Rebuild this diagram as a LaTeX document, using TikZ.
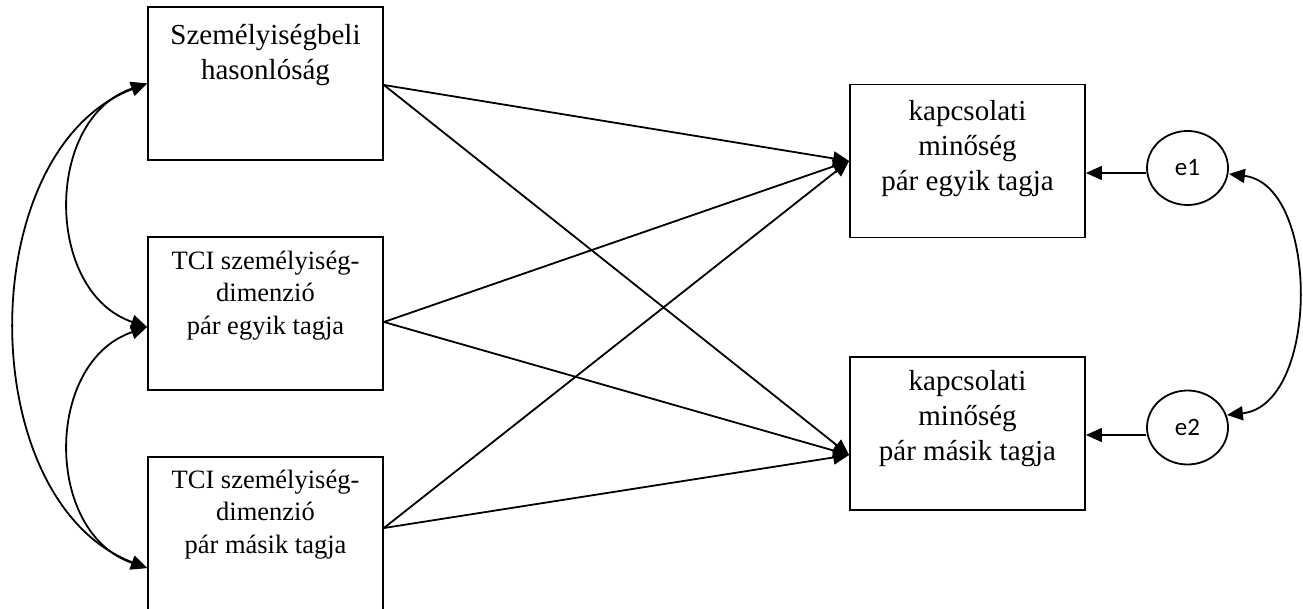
\documentclass[tikz,border=0pt]{standalone}
\usepackage{fontspec}
\setmainfont{Liberation Serif}
\newfontfamily\efont{Carlito}
\usetikzlibrary{arrows.meta,calc,shapes.geometric}
\begin{document}
\begin{tikzpicture}[x=1pt,y=-1pt,
  box/.style={draw, line width=1.8pt, minimum width=235pt, minimum height=153pt, inner sep=0pt},
  ltxt/.style={align=center, anchor=base, inner sep=0pt, font=\fontsize{26.5}{32.5}\selectfont},
  rtxt/.style={align=center, anchor=base, inner sep=0pt, font=\fontsize{29}{35}\selectfont},
  err/.style={draw, ellipse, line width=1.8pt, minimum width=81pt, minimum height=74pt, inner sep=0pt, font=\efont\fontsize{25}{29}\selectfont},
  arr/.style={line width=1.8pt, -{Triangle[length=16pt,width=14pt]}},
  darr/.style={line width=1.8pt, {Triangle[length=16pt,width=14pt]}-{Triangle[length=16pt,width=14pt]}}]
\useasboundingbox[fill=white] (0,0) rectangle (1303,609);
% boxes
\node[box] (b1) at (265.5,83.5) {};
\node[box] (b2) at (265.5,313.5) {};
\node[box, minimum height=157pt] (b3) at (265.5,535.5) {};
\node[box] (b4) at (967.5,161) {};
\node[box] (b5) at (967.5,433.5) {};
% texts (anchor = baseline of the last line)
\node[rtxt] (t1) at ($(b1.north)+(0,73)$) {Személyiségbeli\\hasonlóság};
\node[ltxt] (t2) at ($(b2.north)+(0,98)$) {TCI személyiség-\\dimenzió\\pár egyik tagja};
\node[ltxt] (t3) at ($(b3.north)+(0,97)$) {TCI személyiség-\\dimenzió\\pár másik tagja};
\node[rtxt] (t4) at ($(b4.north)+(0,107)$) {kapcsolati\\minőség\\pár egyik tagja};
\node[rtxt] (t5) at ($(b5.north)+(0,104)$) {kapcsolati\\minőség\\pár másik tagja};
% error terms
\node[err] (e1) at (1187.5,168) {e1};
\node[err] (e2) at (1187.5,427.5) {e2};
% paths
\draw[arr] ($(b1.east)+(0,1.5)$) -- (b4.west);
\draw[arr] ($(b1.east)+(0,1.5)$) -- ($(b5.west)+(0,21.5)$);
\draw[arr] ($(b2.east)+(0,8.5)$) -- (b4.west);
\draw[arr] ($(b2.east)+(0,8.5)$) -- ($(b5.west)+(0,21.5)$);
\draw[arr] ($(b3.east)+(0,-7.5)$) -- (b4.west);
\draw[arr] ($(b3.east)+(0,-7.5)$) -- ($(b5.west)+(0,21.5)$);
\draw[arr] ($(e1.west)+(0,5)$) -- ($(b4.east)+(0,12)$);
\draw[arr] ($(e2.west)+(0,7.5)$) -- ($(b5.east)+(0,1.5)$);
% covariances
\draw[darr] ($(e1.east)+(0,6)$) .. controls (1320,185) and (1320,405) .. ($(e2.east)+(-2,-12.5)$);
\draw[darr] (b1.west) .. controls (44,118) and (44,292) .. ($(b2.west)+(0,13.5)$);
\draw[darr] ($(b2.west)+(0,13.5)$) .. controls (44,362) and (44,533) .. ($(b3.west)+(0,32.5)$);
\draw[darr] (b1.west) .. controls (-28,150) and (-28,501) .. ($(b3.west)+(0,32.5)$);
\end{tikzpicture}
\end{document}
